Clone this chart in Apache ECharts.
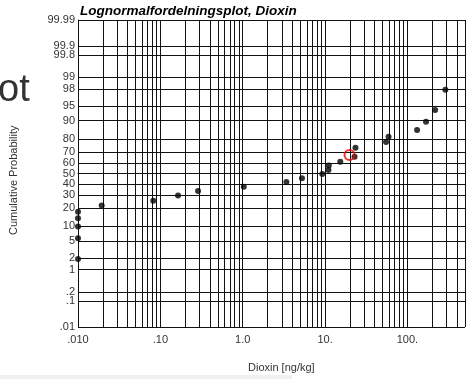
<!DOCTYPE html>
<html>
<head>
<meta charset="utf-8">
<script src="https://cdn.jsdelivr.net/npm/echarts@6/dist/echarts.min.js"></script>
<style>
  html, body { margin: 0; padding: 0; background: #fff; }
  #plot { width: 468px; height: 379px; }
</style>
</head>
<body>
<div id="plot"></div>
<script>
// dioxin concentrations [ng/kg] and cumulative probability [%]
var dioxin = [0.01, 0.01, 0.01, 0.01, 0.01, 0.0194, 0.082, 0.164, 0.287, 1.03, 3.39, 5.24,
              9.25, 11.0, 11.1, 15.3, 22.8, 23.4, 55, 59, 131, 168, 217, 289];
var cumProb = [17.7, 13.9, 9.9, 5.8, 1.9, 21.8, 25.5, 29.6, 33.6, 37.5, 41.8, 45.4,
               49.5, 53.4, 57.7, 61.2, 65.8, 73.4, 77.7, 81.3, 85.4, 89.5, 93.8, 97.9];
// marked point (red ring)
var markedX = [19.8];
var markedP = [67.3];

var probTicks = [99.99, 99.9, 99.8, 99, 98, 95, 90, 80, 70, 60, 50, 40, 30, 20, 10, 5, 2, 1, 0.2, 0.1, 0.01];
var probLabels = ['99.99', '99.9', '99.8', '99', '98', '95', '90', '80', '70', '60', '50', '40', '30', '20', '10', '5', '2', '1', '.2', '.1', '.01'];
var xTickLabels = { '-2': '.010', '-1': '.10', '0': '1.0', '1': '10.', '2': '100.' };

// inverse normal cdf (probability paper scale)
function probit(p) {
    var a = [-3.969683028665376e+01, 2.209460984245205e+02, -2.759285104469687e+02, 1.383577518672690e+02, -3.066479806614716e+01, 2.506628277459239e+00];
    var b = [-5.447609879822406e+01, 1.615858368580409e+02, -1.556989798598866e+02, 6.680131188771972e+01, -1.328068155288572e+01];
    var c = [-7.784894002430293e-03, -3.223964580411365e-01, -2.400758277161838e+00, -2.549732539343734e+00, 4.374664141464968e+00, 2.938163982698783e+00];
    var d = [7.784695709041462e-03, 3.224671290700398e-01, 2.445134137142996e+00, 3.754408661907416e+00];
    var lo = 0.02425, q, r;
    if (p < lo) {
        q = Math.sqrt(-2 * Math.log(p));
        return (((((c[0]*q+c[1])*q+c[2])*q+c[3])*q+c[4])*q+c[5]) / ((((d[0]*q+d[1])*q+d[2])*q+d[3])*q+1);
    }
    if (p > 1 - lo) {
        q = Math.sqrt(-2 * Math.log(1 - p));
        return -(((((c[0]*q+c[1])*q+c[2])*q+c[3])*q+c[4])*q+c[5]) / ((((d[0]*q+d[1])*q+d[2])*q+d[3])*q+1);
    }
    q = p - 0.5; r = q * q;
    return (((((a[0]*r+a[1])*r+a[2])*r+a[3])*r+a[4])*r+a[5])*q / (((((b[0]*r+b[1])*r+b[2])*r+b[3])*r+b[4])*r+1);
}
function z(pct) { return probit(pct / 100); }

var pts = dioxin.map(function (v, i) { return [v, z(cumProb[i])]; });
var ring = markedX.map(function (v, i) { return [v, z(markedP[i])]; });

// grid lines: 1..9 x every decade, and the probability ticks
var gridLines = [];
for (var e = -2; e <= 2; e++) {
    for (var m = 1; m <= 9; m++) {
        var v = m * Math.pow(10, e);
        if (v <= 500) gridLines.push({ xAxis: v, label: { show: false } });
    }
}
probTicks.forEach(function (p, i) {
    gridLines.push({ yAxis: z(p), label: { show: true, position: 'start', formatter: probLabels[i],
        color: '#333', fontSize: 11, fontFamily: 'Liberation Sans', distance: 3 } });
});

var yPad = 0.004;
var chart = echarts.init(document.getElementById('plot'));
chart.setOption({
    animation: false,
    grid: { left: 78, right: 1, top: 20, bottom: 52 },
    xAxis: {
        type: 'log', logBase: 10, min: 0.01, max: 500,
        splitLine: { show: false },
        axisTick: { show: false },
        axisLine: { lineStyle: { color: '#111', width: 1 } },
        axisLabel: {
            color: '#333', fontSize: 11, fontFamily: 'Liberation Sans', margin: 7,
            formatter: function (val) {
                var k = Math.round(Math.log10(val));
                return xTickLabels[k] || '';
            }
        }
    },
    yAxis: {
        type: 'value', min: z(0.01) - yPad, max: z(99.99) + yPad,
        splitLine: { show: false },
        axisTick: { show: false },
        axisLabel: { show: false },
        axisLine: { show: true, lineStyle: { color: '#111', width: 1 } }
    },
    graphic: [
        { type: 'text', left: 80, top: 4, style: { text: 'Lognormalfordelningsplot, Dioxin',
            font: 'italic bold 13.5px "Liberation Sans"', fill: '#000' } },
        { type: 'text', left: -2, top: 72, style: { text: 'ot', font: '38px "Liberation Sans"', fill: '#333' } },
        { type: 'text', x: 8, y: 235, rotation: Math.PI / 2, style: { text: 'Cumulative Probability',
            font: '11px "Liberation Sans"', fill: '#333' } },
        { type: 'text', left: 248, top: 362, style: { text: 'Dioxin [ng/kg]',
            font: '11px "Liberation Sans"', fill: '#333' } },
        { type: 'rect', shape: { x: 0, y: 375, width: 292, height: 4 }, style: { fill: '#f0f0f0' } }
    ],
    series: [
        {
            type: 'line', data: [], z: 1, silent: true,
            markLine: {
                silent: true, symbol: ['none', 'none'], animation: false,
                lineStyle: { color: '#111', width: 1, type: 'solid' },
                data: gridLines
            }
        },
        {
            type: 'scatter', data: pts, z: 5, symbolSize: 6,
            itemStyle: { color: '#000' }
        },
        {
            type: 'scatter', data: ring, z: 6, symbolSize: 10,
            itemStyle: { color: 'rgba(0,0,0,0)', borderColor: '#e00', borderWidth: 2 }
        }
    ]
});
</script>
</body>
</html>
